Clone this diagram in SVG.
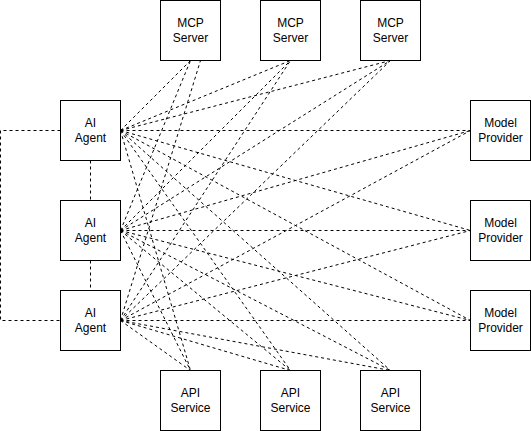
<svg xmlns="http://www.w3.org/2000/svg" width="531" height="431" viewBox="0 0 531 431">
<style>
.box{fill:#ffffff;stroke:#000000;stroke-width:1}
.lbl{font-family:"Liberation Sans",Arial,Helvetica,sans-serif;font-size:12px;fill:#000000;text-anchor:middle}
.edge{fill:none;stroke:#000000;stroke-width:1;stroke-dasharray:3 3}
</style>
<rect width="531" height="431" fill="#ffffff"/>
<g id="connectors">
<path class="edge" d="M60.5 130.5H0.5V320.5H60.5"/>
<path class="edge" d="M90.5 160.5V200.5"/>
<path class="edge" d="M90.5 260.5V290.5"/>
<!-- Agent 1 -->
<path class="edge" d="M120.5 130.5L190.5 60.5"/>
<path class="edge" d="M120.5 130.5L290.5 60.5"/>
<path class="edge" d="M120.5 130.5L390.5 60.5"/>
<path class="edge" d="M120.5 130.5L190.5 370.5"/>
<path class="edge" d="M120.5 130.5L290.5 370.5"/>
<path class="edge" d="M120.5 130.5L390.5 370.5"/>
<path class="edge" d="M120.5 130.5L470.5 130.5"/>
<path class="edge" d="M120.5 130.5L470.5 230.5"/>
<path class="edge" d="M120.5 130.5L470.5 320.5"/>
<!-- Agent 2 -->
<path class="edge" d="M120.5 230.5L190.5 60.5"/>
<path class="edge" d="M120.5 230.5L290.5 60.5"/>
<path class="edge" d="M120.5 230.5L390.5 60.5"/>
<path class="edge" d="M120.5 230.5L190.5 370.5"/>
<path class="edge" d="M120.5 230.5L290.5 370.5"/>
<path class="edge" d="M120.5 230.5L390.5 370.5"/>
<path class="edge" d="M120.5 230.5L470.5 130.5"/>
<path class="edge" d="M120.5 230.5L470.5 230.5"/>
<path class="edge" d="M120.5 230.5L470.5 320.5"/>
<!-- Agent 3 -->
<path class="edge" d="M120.5 320.5L200.5 60.5"/>
<path class="edge" d="M120.5 320.5L290.5 60.5"/>
<path class="edge" d="M120.5 320.5L390.5 60.5"/>
<path class="edge" d="M120.5 320.5L190.5 370.5"/>
<path class="edge" d="M120.5 320.5L290.5 370.5"/>
<path class="edge" d="M120.5 320.5L390.5 370.5"/>
<path class="edge" d="M120.5 320.5L470.5 130.5"/>
<path class="edge" d="M120.5 320.5L470.5 230.5"/>
<path class="edge" d="M120.5 320.5L470.5 320.5"/>
</g>
<g id="agent1"><rect class="box" x="60.5" y="100.5" width="60" height="60"/><text class="lbl" x="90.5" y="127">AI</text><text class="lbl" x="90.5" y="141.5">Agent</text></g>
<g id="agent2"><rect class="box" x="60.5" y="200.5" width="60" height="60"/><text class="lbl" x="90.5" y="227">AI</text><text class="lbl" x="90.5" y="241.5">Agent</text></g>
<g id="agent3"><rect class="box" x="60.5" y="290.5" width="60" height="60"/><text class="lbl" x="90.5" y="317">AI</text><text class="lbl" x="90.5" y="331.5">Agent</text></g>
<g id="mcp1"><rect class="box" x="160.5" y="0.5" width="60" height="60"/><text class="lbl" x="190.5" y="27">MCP</text><text class="lbl" x="190.5" y="41.5">Server</text></g>
<g id="mcp2"><rect class="box" x="260.5" y="0.5" width="60" height="60"/><text class="lbl" x="290.5" y="27">MCP</text><text class="lbl" x="290.5" y="41.5">Server</text></g>
<g id="mcp3"><rect class="box" x="360.5" y="0.5" width="60" height="60"/><text class="lbl" x="390.5" y="27">MCP</text><text class="lbl" x="390.5" y="41.5">Server</text></g>
<g id="api1"><rect class="box" x="160.5" y="370.5" width="60" height="60"/><text class="lbl" x="190.5" y="397">API</text><text class="lbl" x="190.5" y="411.5">Service</text></g>
<g id="api2"><rect class="box" x="260.5" y="370.5" width="60" height="60"/><text class="lbl" x="290.5" y="397">API</text><text class="lbl" x="290.5" y="411.5">Service</text></g>
<g id="api3"><rect class="box" x="360.5" y="370.5" width="60" height="60"/><text class="lbl" x="390.5" y="397">API</text><text class="lbl" x="390.5" y="411.5">Service</text></g>
<g id="model1"><rect class="box" x="470.5" y="100.5" width="60" height="60"/><text class="lbl" x="500.5" y="127">Model</text><text class="lbl" x="500.5" y="141.5">Provider</text></g>
<g id="model2"><rect class="box" x="470.5" y="200.5" width="60" height="60"/><text class="lbl" x="500.5" y="227">Model</text><text class="lbl" x="500.5" y="241.5">Provider</text></g>
<g id="model3"><rect class="box" x="470.5" y="290.5" width="60" height="60"/><text class="lbl" x="500.5" y="317">Model</text><text class="lbl" x="500.5" y="331.5">Provider</text></g>
</svg>
